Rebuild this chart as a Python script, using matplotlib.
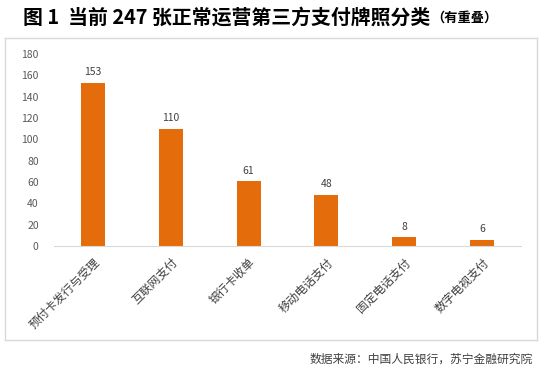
import matplotlib
matplotlib.use("Agg")
import matplotlib.pyplot as plt
from matplotlib.lines import Line2D

plt.rcParams['font.family'] = ['Noto Sans CJK SC', 'DejaVu Sans']

categories = ["预付卡发行与受理", "互联网支付", "银行卡收单", "移动电话支付", "固定电话支付", "数字电视支付"]
values = [153, 110, 61, 48, 8, 6]
yticks = [0, 20, 40, 60, 80, 100, 120, 140, 160, 180]

W, H = 546, 370
fig = plt.figure(figsize=(W / 100, H / 100), dpi=100)

# frame lines
fig.add_artist(Line2D([5 / W, 537 / W], [1 - 38 / H, 1 - 38 / H], color="#d9d9d9", lw=1))
fig.add_artist(Line2D([5 / W, 537 / W], [1 - 340 / H, 1 - 340 / H], color="#d9d9d9", lw=1))
fig.add_artist(Line2D([5 / W, 5 / W], [1 - 38 / H, 1 - 340 / H], color="#d9d9d9", lw=1))
fig.add_artist(Line2D([537 / W, 537 / W], [1 - 38 / H, 1 - 340 / H], color="#d9d9d9", lw=1))

ax = fig.add_axes([54 / W, 1 - 246 / H, 467 / W, 192 / H])
x = list(range(len(categories)))
bars = ax.bar(x, values, width=0.31, color="#E46C0A")
for xi, v in zip(x, values):
    ax.text(xi, v + 5, str(v), ha="center", va="bottom", fontsize=7.5, color="#404040")

ax.set_xlim(-0.5, len(categories) - 0.5)
ax.set_ylim(0, 180)
ax.set_yticks(yticks)
ax.set_yticklabels([str(t) for t in yticks], fontsize=7.5, color="#595959")
ax.set_xticks(x)
ax.set_xticklabels(categories, rotation=45, ha="right", rotation_mode="anchor",
                   fontsize=8.5, color="#404040")
for s in ["top", "right", "left"]:
    ax.spines[s].set_visible(False)
ax.spines["bottom"].set_color("#d9d9d9")
ax.tick_params(axis="both", length=0)
ax.tick_params(axis="y", pad=11)
ax.tick_params(axis="x", pad=7)

fig.text(23 / W, 1 - 17 / H, "图 1  当前 247 张正常运营第三方支付牌照分类", fontsize=14.3,
         fontweight="bold", va="center", ha="left", color="#000000")
fig.text(431 / W, 1 - 18 / H, "（有重叠）", fontsize=9.5, fontweight="bold",
         va="center", ha="left", color="#000000")
fig.text(533 / W, 1 - 359 / H, "数据来源：中国人民银行，苏宁金融研究院", fontsize=8.5,
         style="italic", va="center", ha="right", color="#404040")

fig.savefig("out.png", dpi=100)
